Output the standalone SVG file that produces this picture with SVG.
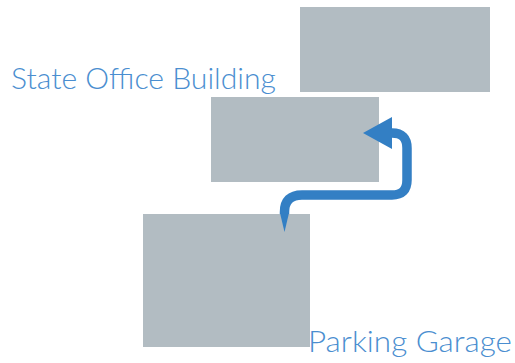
<svg xmlns="http://www.w3.org/2000/svg" width="515" height="363" viewBox="0 0 515 363">
<style>
.b{fill:#B2BCC2}
.t{font-family:Lato,"Liberation Sans",sans-serif;font-weight:300;font-size:30px;fill:#4A8ED0}
</style>
<rect width="515" height="363" fill="#fff"/>
<g id="state-office-building">
<rect class="b" x="300" y="7" width="190" height="85"/>
<rect class="b" x="211" y="97" width="168" height="85"/>
<text class="t" x="11" y="89" textLength="265" lengthAdjust="spacingAndGlyphs">State Office Building</text>
</g>
<g id="parking-garage">
<rect class="b" x="143" y="214" width="167" height="133"/>
<text class="t" x="308" y="352" textLength="204" lengthAdjust="spacingAndGlyphs">Parking Garage</text>
</g>
<g id="connectors">
<path d="M284.5 214 L284.5 212 Q284.5 195 302 195 L392 195 Q407 195 407 180 L407 148 Q407 133 392 133 L388 133" fill="none" stroke="#337FC4" stroke-width="9.5"/>
<polygon points="280,213 289,213 284.5,232" fill="#337FC4"/>
<polygon points="363,133 392,117 392,149" fill="#337FC4"/>
</g>
</svg>
